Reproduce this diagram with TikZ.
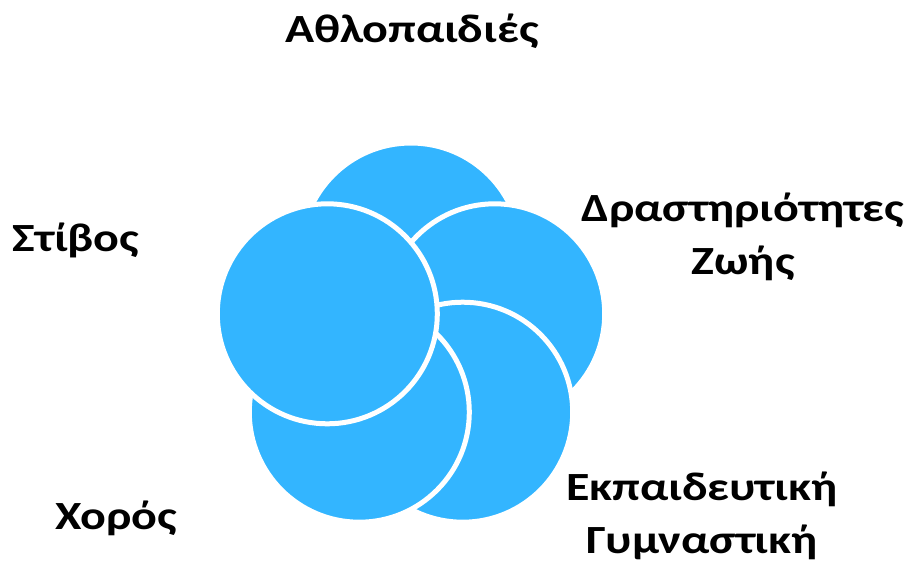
\documentclass[tikz,border=0pt]{standalone}
\usepackage{fontspec}
\setmainfont{Carlito}[FakeStretch=1.2]
\definecolor{ringblue}{RGB}{51,181,255}
\begin{document}
\begin{tikzpicture}[x=1pt,y=-1pt,
  ring/.style={circle, fill=ringblue, draw=white, line width=5pt, minimum size=220pt, inner sep=0pt},
  lbl/.style={font=\bfseries\fontsize{40}{53}\selectfont, anchor=base, align=center, inner sep=0pt}]
\useasboundingbox (0,0) rectangle (910,563);
\node[ring] (r1) at (411,253) {};
\node[ring] (r2) at (494.7,313.8) {};
\node[ring] (r3) at (462.7,412.2) {};
\node[ring] (r4) at (359.3,412.2) {};
\node[ring] (r5) at (327.3,313.8) {};
\node[lbl] (t1) at (412,42) {Αθλοπαιδιές};
\node[lbl] (t2) at (743,274) {Δραστηριότητες\\Ζωής};
\node[lbl] (t3) at (702,553) {Εκπαιδευτική\\Γυμναστική};
\node[lbl] (t4) at (116,529) {Χορός};
\node[lbl] (t5) at (76,251) {Στίβος};
\end{tikzpicture}
\end{document}
